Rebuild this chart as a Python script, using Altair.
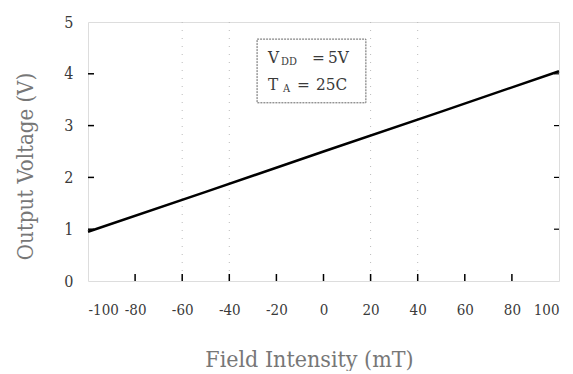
import altair as alt
import pandas as pd

field = [-100, -50, 0, 50, 100]
voltage = [0.95, 1.72, 2.5, 3.27, 4.05]
x_ticks = [-100, -80, -60, -40, -20, 0, 20, 40, 60, 80, 100]
y_ticks = [0, 1, 2, 3, 4, 5]

df = pd.DataFrame({"x": field, "y": voltage})
FONT = "'DejaVu Serif Condensed', 'Liberation Serif', 'DejaVu Serif', serif"
TXT = "#3a3a3a"

xs = alt.Scale(domain=[-100, 100], nice=False, zero=False)
ys = alt.Scale(domain=[0, 5], nice=False)

line = alt.Chart(df).mark_line(color="black", strokeWidth=2.5).encode(
    x=alt.X("x:Q", scale=xs, title="Field Intensity (mT)",
            axis=alt.Axis(values=x_ticks, grid=False, ticks=False, domain=False,
                          labelExpr="toString(datum.value)", labelOverlap=False,
                          labelPadding=21, labelFontSize=15, labelFont=FONT, labelColor=TXT,
                          titleFont=FONT, titleFontSize=23, titleFontWeight="normal",
                          titleColor="#777777", titlePadding=31, titleX=221)),
    y=alt.Y("y:Q", scale=ys, title="Output Voltage (V)",
            axis=alt.Axis(values=y_ticks, grid=False, ticks=False, domain=False,
                          labelPadding=15, labelFontSize=16, labelFont=FONT, labelColor=TXT,
                          titleFont=FONT, titleFontSize=22, titleFontWeight="normal",
                          titleColor="#777777", titlePadding=26, titleY=144)),
)

grid_x = alt.Chart(pd.DataFrame({"x": [-60, -40, 20, 40]})).mark_rule(
    color="#bbbbbb", strokeDash=[1, 7], strokeWidth=1).encode(x=alt.X("x:Q", scale=xs))

xt = alt.Chart(pd.DataFrame({"x": x_ticks[1:-1]})).mark_rule(color="black", strokeWidth=1.5).encode(
    x=alt.X("x:Q", scale=xs), y=alt.value(259), y2=alt.value(252))
yt = alt.Chart(pd.DataFrame({"y": y_ticks[1:-1]})).mark_rule(color="black", strokeWidth=1.5).encode(
    y=alt.Y("y:Q", scale=ys), x=alt.value(0), x2=alt.value(6))
yt2 = alt.Chart(pd.DataFrame({"y": y_ticks[1:-1]})).mark_rule(color="black", strokeWidth=1.2).encode(
    y=alt.Y("y:Q", scale=ys), x=alt.value(471), x2=alt.value(466))

box = alt.Chart(pd.DataFrame({"x": [-28.2], "x2": [18.0], "y": [4.67], "y2": [3.44]})).mark_rect(
    fill="white", stroke="#666666", strokeWidth=1, strokeDash=[2, 1]).encode(
    x=alt.X("x:Q", scale=xs), x2="x2:Q", y=alt.Y("y:Q", scale=ys), y2="y2:Q")

labels = pd.DataFrame({
    "x": [-23.6, -18.0, -4.9, 1.9, -23.6, -17.2, -11.3, -3.2],
    "y": [4.30, 4.22, 4.30, 4.30, 3.78, 3.70, 3.78, 3.78],
    "t": ["V", "DD", "=", "5V", "T", "A", "=", "25C"],
    "s": [17, 11, 17, 17, 17, 11, 17, 17],
})
txt = alt.Chart(labels).mark_text(font=FONT, color="#3a3a3a", align="left", baseline="middle").encode(
    x=alt.X("x:Q", scale=xs), y=alt.Y("y:Q", scale=ys), text="t:N",
    size=alt.Size("s:Q", scale=None, legend=None))

chart = alt.layer(grid_x, box, txt, line, xt, yt, yt2).properties(
    width=471, height=259,
    autosize=alt.AutoSizeParams(type="none"),
    padding={"left": 80, "top": 14, "right": 6, "bottom": 90},
).configure_view(stroke="#222222", strokeWidth=1.5).configure(background="white")

chart.save("out.html", embed_options={"renderer": "svg", "actions": False})
